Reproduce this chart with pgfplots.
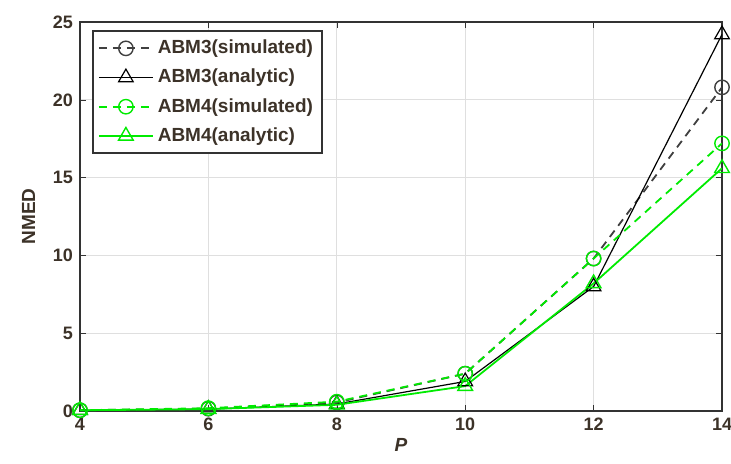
\documentclass[border=0pt]{standalone}
\usepackage{fontspec}
\setmainfont{Liberation Sans}
\usepackage{pgfplots}
\pgfplotsset{compat=1.18}
\definecolor{tickc}{RGB}{60,50,40}
\definecolor{mgreen}{RGB}{0,235,0}
\begin{document}
\begin{tikzpicture}
\path[use as bounding box] (-40pt,-26pt) rectangle (325.5pt,205.5pt);
\begin{axis}[
  at={(0,0)}, anchor=south west,
  scale only axis, width=321pt, height=194.5pt,
  xmin=4, xmax=14, ymin=0, ymax=25,
  xtick={4,6,...,14}, ytick={0,5,...,25},
  grid=major, grid style={gray!25, line width=0.6pt},
  tick align=inside, major tick length=3pt,
  axis line style={line width=0.9pt, black!80},
  tick style={black!80},
  ticklabel style={font=\fontsize{9}{10}\selectfont\bfseries, text=tickc},
  /pgf/number format/assume math mode=true,
  xlabel={\textbf{\textit{P}}}, ylabel={\textbf{NMED}},
  label style={font=\fontsize{9.5}{10}\selectfont, text=tickc},
  xlabel style={yshift=3pt},
  ylabel style={yshift=2pt},
  legend style={at={(0.019,0.979)}, anchor=north west, draw=black!80, line width=0.8pt,
    font=\fontsize{9.5}{11}\selectfont\bfseries, text=tickc, row sep=2.2pt, inner sep=2.5pt,
    cells={anchor=west}},
  legend cell align=left,
  legend image code/.code={\draw[#1] (0pt,0pt) -- (27pt,0pt); \draw[#1,solid] plot coordinates {(13.5pt,0pt)};},
]
\addplot[black!75, dashed, dash pattern=on 4pt off 3pt, line width=0.9pt, mark=o, mark size=3.6pt, mark options={solid, line width=0.7pt}]
  coordinates {(4,0.05) (6,0.15) (8,0.55) (10,2.4) (12,9.8) (14,20.8)};
\addlegendentry{ABM3(simulated)}
\addplot[black, line width=0.6pt, mark=triangle, mark size=4.2pt, mark options={solid, line width=0.6pt}]
  coordinates {(4,0.05) (6,0.12) (8,0.45) (10,1.9) (12,8.0) (14,24.2)};
\addlegendentry{ABM3(analytic)}
\addplot[mgreen, dashed, dash pattern=on 4pt off 3pt, line width=0.9pt, mark=o, mark size=3.6pt, mark options={solid, line width=0.7pt}]
  coordinates {(4,0.05) (6,0.18) (8,0.6) (10,2.4) (12,9.8) (14,17.2)};
\addlegendentry{ABM4(simulated)}
\addplot[mgreen, line width=0.9pt, mark=triangle, mark size=4.2pt, mark options={solid, line width=0.7pt}]
  coordinates {(4,0.05) (6,0.12) (8,0.4) (10,1.6) (12,8.2) (14,15.6)};
\addlegendentry{ABM4(analytic)}
\end{axis}
\end{tikzpicture}
\end{document}
